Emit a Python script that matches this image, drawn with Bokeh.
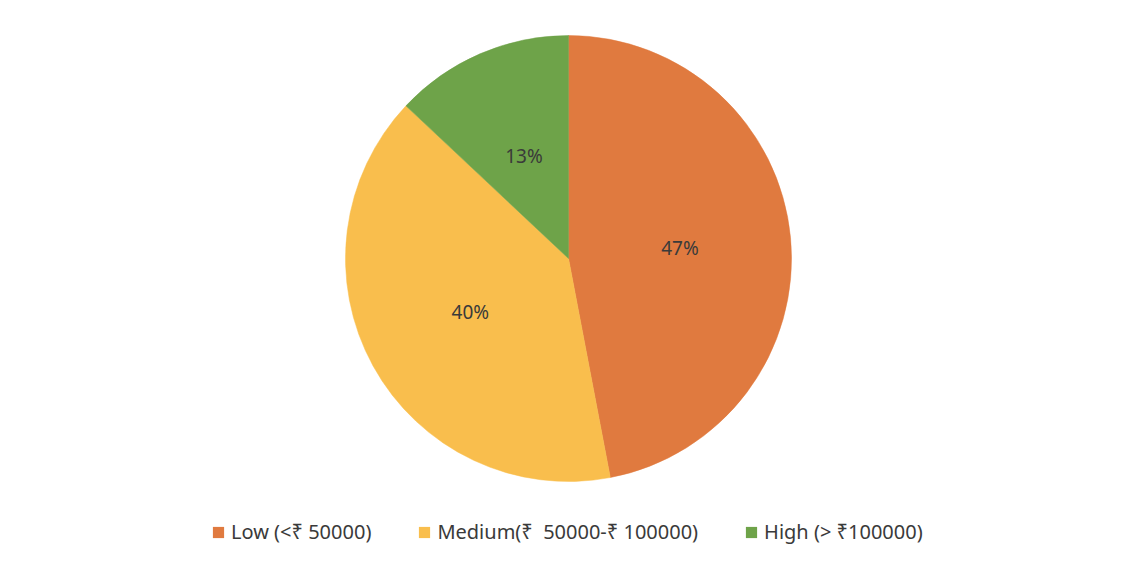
import math
from bokeh.plotting import figure
from bokeh.models import ColumnDataSource, Legend, LegendItem
from bokeh.core.properties import value
from bokeh.embed import file_html
from bokeh.resources import INLINE

categories = ["Low (<₹ 50000)", "Medium(₹  50000-₹ 100000)", "High (> ₹100000)"]
percents = [47, 40, 13]
colors = ["#E07A3F", "#F9BE4D", "#6EA349"]

W, H = 1129, 571
cx, cy, R = 568, H - 258, 223
label_r = 112

# angles: start at top, go clockwise
starts, ends, lx, ly, texts = [], [], [], [], []
acc = 0.0
total = sum(percents)
for v in percents:
    a0 = math.pi / 2 - 2 * math.pi * acc / total
    a1 = math.pi / 2 - 2 * math.pi * (acc + v) / total
    starts.append(a1)
    ends.append(a0)
    mid = (a0 + a1) / 2
    lx.append(cx + label_r * math.cos(mid))
    ly.append(cy + label_r * math.sin(mid))
    texts.append(f"{v}%")
    acc += v

src = ColumnDataSource(dict(start=starts, end=ends, color=colors, cat=categories))
lsrc = ColumnDataSource(dict(x=lx, y=ly, t=texts))

p = figure(width=W, height=H, x_range=(0, W), y_range=(0, H),
           output_backend="svg", toolbar_location=None, min_border=0)
p.axis.visible = False
p.grid.visible = False
p.outline_line_color = None
p.background_fill_color = "white"

p.wedge(x=cx, y=cy, radius=R, start_angle="start", end_angle="end",
        fill_color="color", line_color="color", line_width=0.5, source=src)
p.text(x="x", y="y", text="t", source=lsrc, text_align="center",
       text_baseline="middle", text_font=value("Noto Sans"),
       text_font_size="19px", text_color="#3A3A3A")

nan = float("nan")
items = []
for c, col in zip(categories, colors):
    r = p.quad(left=[nan], right=[nan], top=[nan], bottom=[nan],
               fill_color=col, line_color=None)
    items.append(LegendItem(label=c, renderers=[r]))

legend = Legend(items=items, orientation="horizontal", location=(211, 26),
                glyph_width=14, glyph_height=14, label_standoff=6, spacing=46,
                padding=0, margin=0, border_line_color=None,
                background_fill_alpha=0, label_text_font="Noto Sans",
                label_text_font_size="20px", label_text_color="#3A3A3A")
p.add_layout(legend, "center")

open("out.html", "w").write(file_html(p, INLINE))
